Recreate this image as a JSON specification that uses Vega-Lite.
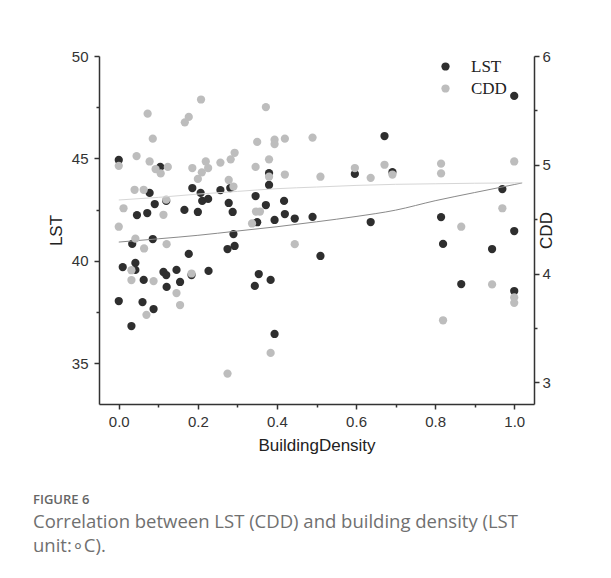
{
  "$schema": "https://vega.github.io/schema/vega-lite/v6.json",
  "width": 435,
  "height": 348,
  "autosize": {"type": "none"},
  "padding": {"left": 99, "top": 56, "right": 77, "bottom": 174},
  "background": "white",
  "config": {
    "view": {"stroke": null},
    "axis": {
      "grid": false,
      "domainColor": "#333333",
      "domainWidth": 1.5,
      "tickColor": "#333333",
      "tickWidth": 1.5,
      "labelFont": "Liberation Sans",
      "labelFontSize": 15,
      "labelColor": "#333333",
      "titleFont": "Liberation Sans",
      "titleFontSize": 17,
      "titleFontWeight": "normal",
      "titleColor": "#222222",
      "labelOverlap": false,
      "labelFlush": false
    }
  },
  "title": {
    "text": "FIGURE 6",
    "subtitle": ["Correlation between LST (CDD) and building density (LST", "unit:∘C)."],
    "orient": "bottom",
    "anchor": "start",
    "frame": "group",
    "dx": -66,
    "offset": 41,
    "font": "Open Sans",
    "fontSize": 13,
    "fontWeight": 600,
    "color": "#666666",
    "subtitleFont": "Open Sans",
    "subtitleFontSize": 18.5,
    "subtitleColor": "#707070",
    "subtitleLineHeight": 24,
    "subtitlePadding": 6
  },
  "datasets": {
    "lst": [
      {"density": 0.0, "value": 44.92, "series": "LST"},
      {"density": 0.105, "value": 44.58, "series": "LST"},
      {"density": 0.078, "value": 43.31, "series": "LST"},
      {"density": 0.12, "value": 42.92, "series": "LST"},
      {"density": 0.091, "value": 42.77, "series": "LST"},
      {"density": 0.046, "value": 42.23, "series": "LST"},
      {"density": 0.072, "value": 42.33, "series": "LST"},
      {"density": 0.186, "value": 43.55, "series": "LST"},
      {"density": 0.207, "value": 43.31, "series": "LST"},
      {"density": 0.211, "value": 42.92, "series": "LST"},
      {"density": 0.226, "value": 43.02, "series": "LST"},
      {"density": 0.166, "value": 42.48, "series": "LST"},
      {"density": 0.2, "value": 42.38, "series": "LST"},
      {"density": 0.257, "value": 43.45, "series": "LST"},
      {"density": 0.282, "value": 43.55, "series": "LST"},
      {"density": 0.278, "value": 42.82, "series": "LST"},
      {"density": 0.288, "value": 42.38, "series": "LST"},
      {"density": 0.38, "value": 44.28, "series": "LST"},
      {"density": 0.38, "value": 43.7, "series": "LST"},
      {"density": 0.346, "value": 43.16, "series": "LST"},
      {"density": 0.372, "value": 42.72, "series": "LST"},
      {"density": 0.418, "value": 42.92, "series": "LST"},
      {"density": 0.42, "value": 42.28, "series": "LST"},
      {"density": 0.394, "value": 41.99, "series": "LST"},
      {"density": 0.35, "value": 41.88, "series": "LST"},
      {"density": 0.597, "value": 44.24, "series": "LST"},
      {"density": 0.672, "value": 46.09, "series": "LST"},
      {"density": 0.692, "value": 44.33, "series": "LST"},
      {"density": 1.0, "value": 48.05, "series": "LST"},
      {"density": 0.97, "value": 43.5, "series": "LST"},
      {"density": 0.815, "value": 42.13, "series": "LST"},
      {"density": 0.445, "value": 42.06, "series": "LST"},
      {"density": 0.49, "value": 42.14, "series": "LST"},
      {"density": 0.637, "value": 41.89, "series": "LST"},
      {"density": 0.51, "value": 40.23, "series": "LST"},
      {"density": 0.82, "value": 40.82, "series": "LST"},
      {"density": 1.0, "value": 41.45, "series": "LST"},
      {"density": 0.944, "value": 40.57, "series": "LST"},
      {"density": 0.866, "value": 38.86, "series": "LST"},
      {"density": 1.0, "value": 38.52, "series": "LST"},
      {"density": 0.034, "value": 40.82, "series": "LST"},
      {"density": 0.086, "value": 41.06, "series": "LST"},
      {"density": 0.01, "value": 39.69, "series": "LST"},
      {"density": 0.042, "value": 39.89, "series": "LST"},
      {"density": 0.042, "value": 39.55, "series": "LST"},
      {"density": 0.063, "value": 39.06, "series": "LST"},
      {"density": 0.113, "value": 39.45, "series": "LST"},
      {"density": 0.12, "value": 39.3, "series": "LST"},
      {"density": 0.146, "value": 39.55, "series": "LST"},
      {"density": 0.121, "value": 38.72, "series": "LST"},
      {"density": 0.155, "value": 38.96, "series": "LST"},
      {"density": 0.177, "value": 40.33, "series": "LST"},
      {"density": 0.184, "value": 39.3, "series": "LST"},
      {"density": 0.227, "value": 39.5, "series": "LST"},
      {"density": 0.0, "value": 38.03, "series": "LST"},
      {"density": 0.06, "value": 37.98, "series": "LST"},
      {"density": 0.088, "value": 37.64, "series": "LST"},
      {"density": 0.032, "value": 36.81, "series": "LST"},
      {"density": 0.275, "value": 40.57, "series": "LST"},
      {"density": 0.293, "value": 40.72, "series": "LST"},
      {"density": 0.29, "value": 41.3, "series": "LST"},
      {"density": 0.344, "value": 38.77, "series": "LST"},
      {"density": 0.354, "value": 39.35, "series": "LST"},
      {"density": 0.384, "value": 39.06, "series": "LST"},
      {"density": 0.394, "value": 36.42, "series": "LST"}
    ],
    "cdd": [
      {"density": 0.0, "value": 4.99, "series": "CDD"},
      {"density": 0.012, "value": 4.6, "series": "CDD"},
      {"density": 0.045, "value": 5.08, "series": "CDD"},
      {"density": 0.073, "value": 5.47, "series": "CDD"},
      {"density": 0.086, "value": 5.24, "series": "CDD"},
      {"density": 0.078, "value": 5.03, "series": "CDD"},
      {"density": 0.093, "value": 4.96, "series": "CDD"},
      {"density": 0.106, "value": 4.92, "series": "CDD"},
      {"density": 0.124, "value": 4.98, "series": "CDD"},
      {"density": 0.04, "value": 4.77, "series": "CDD"},
      {"density": 0.063, "value": 4.77, "series": "CDD"},
      {"density": 0.12, "value": 4.68, "series": "CDD"},
      {"density": 0.113, "value": 4.54, "series": "CDD"},
      {"density": 0.167, "value": 5.39, "series": "CDD"},
      {"density": 0.177, "value": 5.44, "series": "CDD"},
      {"density": 0.208, "value": 5.6, "series": "CDD"},
      {"density": 0.186, "value": 4.97, "series": "CDD"},
      {"density": 0.2, "value": 4.87, "series": "CDD"},
      {"density": 0.21, "value": 4.93, "series": "CDD"},
      {"density": 0.226, "value": 4.97, "series": "CDD"},
      {"density": 0.22, "value": 5.03, "series": "CDD"},
      {"density": 0.257, "value": 5.02, "series": "CDD"},
      {"density": 0.283, "value": 5.05, "series": "CDD"},
      {"density": 0.293, "value": 5.11, "series": "CDD"},
      {"density": 0.278, "value": 4.86, "series": "CDD"},
      {"density": 0.29, "value": 4.8, "series": "CDD"},
      {"density": 0.346, "value": 4.98, "series": "CDD"},
      {"density": 0.35, "value": 5.21, "series": "CDD"},
      {"density": 0.372, "value": 5.53, "series": "CDD"},
      {"density": 0.38, "value": 5.05, "series": "CDD"},
      {"density": 0.394, "value": 5.23, "series": "CDD"},
      {"density": 0.394, "value": 5.19, "series": "CDD"},
      {"density": 0.42, "value": 5.24, "series": "CDD"},
      {"density": 0.49, "value": 5.25, "series": "CDD"},
      {"density": 0.42, "value": 4.91, "series": "CDD"},
      {"density": 0.38, "value": 4.89, "series": "CDD"},
      {"density": 0.347, "value": 4.57, "series": "CDD"},
      {"density": 0.357, "value": 4.57, "series": "CDD"},
      {"density": 0.51, "value": 4.89, "series": "CDD"},
      {"density": 0.597, "value": 4.97, "series": "CDD"},
      {"density": 0.637, "value": 4.88, "series": "CDD"},
      {"density": 0.672, "value": 5.0, "series": "CDD"},
      {"density": 0.692, "value": 4.91, "series": "CDD"},
      {"density": 0.815, "value": 5.01, "series": "CDD"},
      {"density": 0.815, "value": 4.92, "series": "CDD"},
      {"density": 1.0, "value": 5.03, "series": "CDD"},
      {"density": 0.97, "value": 4.6, "series": "CDD"},
      {"density": 0.445, "value": 4.27, "series": "CDD"},
      {"density": 0.866, "value": 4.43, "series": "CDD"},
      {"density": 0.944, "value": 3.9, "series": "CDD"},
      {"density": 1.0, "value": 3.78, "series": "CDD"},
      {"density": 1.0, "value": 3.73, "series": "CDD"},
      {"density": 0.82, "value": 3.57, "series": "CDD"},
      {"density": 0.0, "value": 4.43, "series": "CDD"},
      {"density": 0.042, "value": 4.32, "series": "CDD"},
      {"density": 0.064, "value": 4.23, "series": "CDD"},
      {"density": 0.121, "value": 4.27, "series": "CDD"},
      {"density": 0.032, "value": 4.03, "series": "CDD"},
      {"density": 0.032, "value": 3.94, "series": "CDD"},
      {"density": 0.088, "value": 3.93, "series": "CDD"},
      {"density": 0.146, "value": 3.82, "series": "CDD"},
      {"density": 0.155, "value": 3.71, "series": "CDD"},
      {"density": 0.184, "value": 4.0, "series": "CDD"},
      {"density": 0.07, "value": 3.62, "series": "CDD"},
      {"density": 0.337, "value": 4.46, "series": "CDD"},
      {"density": 0.384, "value": 3.27, "series": "CDD"},
      {"density": 0.275, "value": 3.08, "series": "CDD"}
    ],
    "lstfit": [
      {"density": 0.0, "value": 40.91},
      {"density": 0.1, "value": 41.07},
      {"density": 0.2, "value": 41.24},
      {"density": 0.3, "value": 41.45},
      {"density": 0.4, "value": 41.66},
      {"density": 0.5, "value": 41.9},
      {"density": 0.6, "value": 42.16},
      {"density": 0.7, "value": 42.47},
      {"density": 0.8, "value": 42.93},
      {"density": 0.9, "value": 43.33},
      {"density": 1.0, "value": 43.72},
      {"density": 1.02, "value": 43.8}
    ],
    "cddfit": [
      {"density": 0.0, "value": 4.676},
      {"density": 0.1, "value": 4.7},
      {"density": 0.2, "value": 4.73},
      {"density": 0.3, "value": 4.755},
      {"density": 0.4, "value": 4.78},
      {"density": 0.5, "value": 4.795},
      {"density": 0.6, "value": 4.81},
      {"density": 0.7, "value": 4.82},
      {"density": 0.8, "value": 4.825},
      {"density": 0.9, "value": 4.83},
      {"density": 1.0, "value": 4.833},
      {"density": 1.02, "value": 4.834}
    ]
  },
  "layer": [
    {
      "layer": [
        {
          "data": {"name": "lst"},
          "mark": {"type": "circle", "size": 68, "opacity": 1},
          "encoding": {
            "x": {
              "field": "density", "type": "quantitative",
              "scale": {"domain": [-0.05, 1.05], "nice": false, "zero": false},
              "axis": {
                "title": "BuildingDensity",
                "values": [0, 0.1, 0.2, 0.3, 0.4, 0.5, 0.6, 0.7, 0.8, 0.9, 1.0],
                "format": ".1f",
                "labelExpr": "round(datum.value*10) % 2 === 1 ? '' : datum.label",
                "tickSize": {"condition": {"test": "round(datum.value*10) % 2 === 1", "value": 3}, "value": 5},
                "labelPadding": 5,
                "titlePadding": 8
              }
            },
            "y": {
              "field": "value", "type": "quantitative",
              "scale": {"domain": [33, 50], "nice": false, "zero": false},
              "axis": {
                "orient": "left",
                "title": "LST",
                "values": [35, 37.5, 40, 42.5, 45, 47.5, 50],
                "labelExpr": "datum.value % 5 !== 0 ? '' : datum.label",
                "tickSize": {"condition": {"test": "datum.value % 5 !== 0", "value": 3}, "value": 5},
                "labelPadding": 6,
                "titlePadding": 6
              }
            },
            "color": {
              "field": "series", "type": "nominal",
              "scale": {"domain": ["LST", "CDD"], "range": ["#2e2e2e", "#bdbdbd"]},
              "legend": {
                "title": null,
                "orient": "none",
                "legendX": 338,
                "legendY": 2,
                "padding": 0,
                "symbolType": "circle",
                "symbolSize": 68,
                "symbolStrokeWidth": 0,
                "labelFont": "Liberation Serif",
                "labelFontSize": 17,
                "labelColor": "#222222",
                "labelOffset": 17,
                "rowPadding": 4
              }
            }
          }
        },
        {
          "data": {"name": "lstfit"},
          "mark": {"type": "line", "color": "#8a8a8a", "strokeWidth": 1, "interpolate": "monotone"},
          "encoding": {
            "x": {"field": "density", "type": "quantitative"},
            "y": {"field": "value", "type": "quantitative"}
          }
        }
      ]
    },
    {
      "layer": [
        {
          "data": {"name": "cdd"},
          "mark": {"type": "circle", "size": 68, "opacity": 1},
          "encoding": {
            "x": {"field": "density", "type": "quantitative"},
            "y": {
              "field": "value", "type": "quantitative",
              "scale": {"domain": [2.8, 6], "nice": false, "zero": false},
              "axis": {
                "orient": "right",
                "title": "CDD",
                "titleAngle": 270,
                "values": [3, 3.5, 4, 4.5, 5, 5.5, 6],
                "format": ".0f",
                "labelExpr": "datum.value % 1 !== 0 ? '' : datum.label",
                "tickSize": {"condition": {"test": "datum.value % 1 !== 0", "value": 3}, "value": 5},
                "labelPadding": 3,
                "titlePadding": 5
              }
            },
            "color": {"field": "series", "type": "nominal"}
          }
        },
        {
          "data": {"name": "cddfit"},
          "mark": {"type": "line", "color": "#d6d6d6", "strokeWidth": 1, "interpolate": "monotone"},
          "encoding": {
            "x": {"field": "density", "type": "quantitative"},
            "y": {"field": "value", "type": "quantitative"}
          }
        }
      ]
    }
  ],
  "resolve": {"scale": {"y": "independent"}}
}
